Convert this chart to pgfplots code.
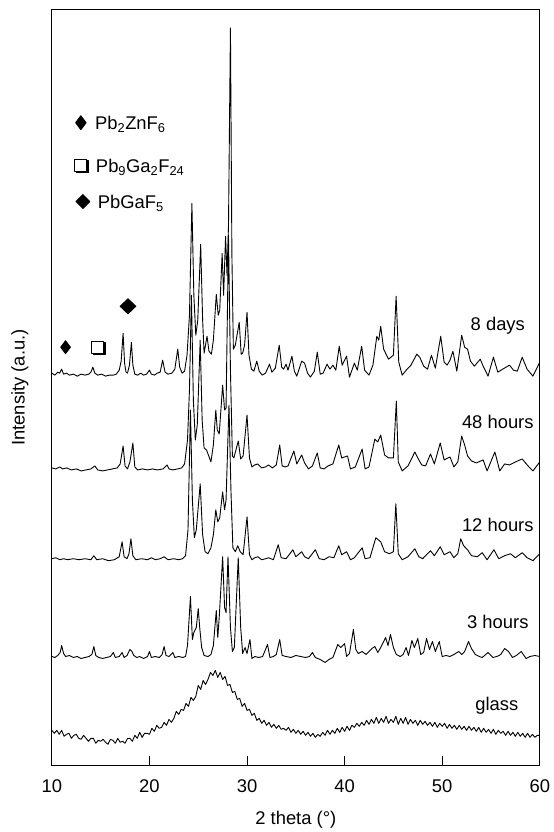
\documentclass[border=0pt]{standalone}
\usepackage{fontspec}
\setmainfont{Liberation Sans}
\usepackage{pgfplots}
\usepackage{pgfplotstable}
\pgfplotsset{compat=1.18}

\pgfplotstableread[row sep=\\]{x h\\
10 2\\ 10.3 0\\ 10.6 3\\ 10.8 2\\ 11.0 6\\ 11.2 1\\ 11.5 2\\ 11.8 0\\ 12.2 1\\ 12.6 -1\\ 13.0 1\\ 13.4 0\\ 13.8 1\\ 14.0 3\\ 14.2 8\\ 14.4 2\\ 14.7 0\\ 15.1 1\\ 15.5 -1\\ 15.9 0\\ 16.3 0\\ 16.6 1\\ 16.9 5\\ 17.1 14\\ 17.3 42\\ 17.45 12\\ 17.6 3\\ 17.75 2\\ 17.95 10\\ 18.15 33\\ 18.3 10\\ 18.5 1\\ 18.8 0\\ 19.1 2\\ 19.4 0\\ 19.7 1\\ 20.0 5\\ 20.2 1\\ 20.5 0\\ 20.8 2\\ 21.1 3\\ 21.35 15\\ 21.6 3\\ 21.9 1\\ 22.3 2\\ 22.6 6\\ 22.9 26\\ 23.1 8\\ 23.35 2\\ 23.6 4\\ 23.85 20\\ 24.1 60\\ 24.35 172\\ 24.55 80\\ 24.75 40\\ 24.95 55\\ 25.25 131\\ 25.45 55\\ 25.6 22\\ 25.9 39\\ 26.1 24\\ 26.35 21\\ 26.55 35\\ 26.85 81\\ 27.05 60\\ 27.2 65\\ 27.45 122\\ 27.6 80\\ 27.8 139\\ 27.95 100\\ 28.1 150\\ 28.3 348\\ 28.45 120\\ 28.6 26\\ 28.8 30\\ 29.2 53\\ 29.4 21\\ 29.55 22\\ 29.75 30\\ 30.0 63\\ 30.2 20\\ 30.45 6\\ 30.7 4\\ 31.0 14\\ 31.25 4\\ 31.55 0\\ 31.9 2\\ 32.3 11\\ 32.55 3\\ 32.9 7\\ 33.3 30\\ 33.55 8\\ 33.75 6\\ 34.0 11\\ 34.2 5\\ 34.6 19\\ 34.85 4\\ 35.1 -1\\ 35.6 14\\ 35.9 12\\ 36.2 2\\ 36.5 -2\\ 36.9 4\\ 37.2 23\\ 37.5 1\\ 37.8 2\\ 38.2 11\\ 38.5 6\\ 38.8 10\\ 39.1 5\\ 39.45 29\\ 39.75 10\\ 40.2 19\\ 40.5 -2\\ 41.0 12\\ 41.3 5\\ 41.75 29\\ 42.05 5\\ 42.5 0\\ 42.9 10\\ 43.3 39\\ 43.5 35\\ 43.7 49\\ 44.0 26\\ 44.5 16\\ 45.0 20\\ 45.28 79\\ 45.55 13\\ 45.9 0\\ 46.4 6\\ 46.8 10\\ 47.4 21\\ 47.7 18\\ 48.1 9\\ 48.5 6\\ 48.9 20\\ 49.3 7\\ 49.85 39\\ 50.2 13\\ 50.5 10\\ 50.8 15\\ 51.1 24\\ 51.5 4\\ 52.0 40\\ 52.3 28\\ 52.6 26\\ 52.9 14\\ 53.3 9\\ 53.9 16\\ 54.2 9\\ 54.7 -1\\ 55.25 18\\ 55.7 3\\ 56.2 6\\ 56.9 10\\ 57.3 5\\ 57.7 4\\ 58.2 18\\ 58.7 6\\ 59.3 -1\\ 60.0 13\\
}\eightdays

\pgfplotstableread[row sep=\\]{x h\\
10.0 2\\ 10.4 1\\ 10.8 3\\ 11.1 1\\ 11.5 2\\ 12.0 0\\ 12.5 1\\ 13.0 -1\\ 13.5 0\\ 14.0 1\\ 14.4 4\\ 14.7 0\\ 15.2 -1\\ 15.7 0\\ 16.2 1\\ 16.7 2\\ 17.0 6\\ 17.3 24\\ 17.5 4\\ 17.75 1\\ 18.0 8\\ 18.3 27\\ 18.5 3\\ 18.8 0\\ 19.3 1\\ 19.8 0\\ 20.3 1\\ 20.8 0\\ 21.4 1\\ 21.8 5\\ 22.0 1\\ 22.4 0\\ 22.9 1\\ 23.3 2\\ 23.6 6\\ 23.9 30\\ 24.1 80\\ 24.3 175\\ 24.5 70\\ 24.7 30\\ 24.9 45\\ 25.2 130\\ 25.4 50\\ 25.6 22\\ 25.85 20\\ 26.0 16\\ 26.3 8\\ 26.55 25\\ 26.8 60\\ 26.95 40\\ 27.15 36\\ 27.5 85\\ 27.7 60\\ 27.85 62\\ 28.1 235\\ 28.3 100\\ 28.5 14\\ 28.65 12\\ 29.1 29\\ 29.35 11\\ 29.6 14\\ 30.0 55\\ 30.25 12\\ 30.5 3\\ 30.8 5\\ 31.1 6\\ 31.5 2\\ 31.9 3\\ 32.2 5\\ 32.6 2\\ 33.0 5\\ 33.35 25\\ 33.6 4\\ 33.9 3\\ 34.2 4\\ 34.8 19\\ 35.1 6\\ 35.6 15\\ 35.9 7\\ 36.3 1\\ 36.7 4\\ 37.2 17\\ 37.5 2\\ 37.9 1\\ 38.3 4\\ 38.8 6\\ 39.4 25\\ 39.7 12\\ 40.3 14\\ 40.6 1\\ 41.1 3\\ 41.8 21\\ 42.1 1\\ 42.5 3\\ 43.1 31\\ 43.4 28\\ 43.7 35\\ 44.1 15\\ 44.5 12\\ 45.0 12\\ 45.3 69\\ 45.5 8\\ 45.9 -1\\ 46.5 4\\ 47.2 18\\ 47.5 12\\ 47.9 5\\ 48.3 4\\ 48.8 16\\ 49.2 6\\ 49.8 27\\ 50.2 10\\ 50.8 13\\ 51.2 3\\ 51.6 8\\ 52.0 34\\ 52.3 25\\ 52.6 14\\ 53.0 9\\ 53.5 7\\ 54.2 10\\ 54.6 -1\\ 55.4 18\\ 55.9 -1\\ 56.4 6\\ 56.9 5\\ 57.5 8\\ 58.2 11\\ 58.8 4\\ 59.3 -1\\ 60.0 8\\
}\fortyeight

\pgfplotstableread[row sep=\\]{x h\\
10.0 1\\ 10.4 2\\ 10.8 0\\ 11.2 1\\ 11.6 0\\ 12.2 1\\ 12.8 0\\ 13.4 1\\ 14.0 0\\ 14.3 4\\ 14.6 0\\ 15.2 1\\ 15.8 -1\\ 16.4 0\\ 16.9 3\\ 17.2 18\\ 17.4 3\\ 17.7 1\\ 17.9 6\\ 18.1 21\\ 18.3 4\\ 18.6 0\\ 19.2 1\\ 19.8 0\\ 20.2 2\\ 20.6 0\\ 21.1 1\\ 21.5 3\\ 21.9 0\\ 22.5 1\\ 23.0 0\\ 23.4 1\\ 23.7 4\\ 23.95 30\\ 24.2 150\\ 24.4 60\\ 24.6 22\\ 24.8 30\\ 25.2 76\\ 25.45 25\\ 25.7 8\\ 26.0 6\\ 26.3 12\\ 26.55 25\\ 26.8 50\\ 27.0 38\\ 27.2 42\\ 27.5 68\\ 27.7 50\\ 27.85 60\\ 28.15 155\\ 28.35 70\\ 28.55 12\\ 28.8 8\\ 29.05 14\\ 29.3 8\\ 29.6 5\\ 30.0 43\\ 30.25 5\\ 30.5 0\\ 30.8 2\\ 31.1 3\\ 31.5 0\\ 31.9 1\\ 32.2 2\\ 32.7 0\\ 33.2 15\\ 33.5 2\\ 34.0 1\\ 34.7 10\\ 35.0 3\\ 35.6 8\\ 35.9 3\\ 36.3 1\\ 37.0 10\\ 37.4 1\\ 37.9 0\\ 38.4 3\\ 38.9 2\\ 39.4 14\\ 39.7 5\\ 40.2 8\\ 40.6 0\\ 41.0 2\\ 41.8 12\\ 42.1 1\\ 42.6 2\\ 43.2 22\\ 43.45 20\\ 43.7 18\\ 44.1 8\\ 44.6 6\\ 45.0 8\\ 45.25 56\\ 45.5 6\\ 45.9 0\\ 46.5 3\\ 47.2 11\\ 47.6 3\\ 48.0 1\\ 48.8 9\\ 49.2 4\\ 49.8 13\\ 50.2 5\\ 50.8 8\\ 51.2 2\\ 51.6 6\\ 51.9 21\\ 52.2 14\\ 52.6 10\\ 53.0 4\\ 53.6 3\\ 54.1 7\\ 54.6 0\\ 55.3 10\\ 55.8 1\\ 56.4 4\\ 57.0 6\\ 57.5 2\\ 58.2 7\\ 58.7 2\\ 59.3 -1\\ 60.0 6\\
}\twelve

\pgfplotstableread[row sep=\\]{x h\\
10.0 1\\ 10.3 0\\ 10.6 2\\ 10.85 5\\ 11.0 12\\ 11.2 4\\ 11.4 1\\ 11.8 2\\ 12.2 0\\ 12.6 1\\ 13.0 -1\\ 13.4 0\\ 13.8 1\\ 14.1 3\\ 14.3 11\\ 14.5 2\\ 14.8 0\\ 15.2 -1\\ 15.6 0\\ 16.0 1\\ 16.3 5\\ 16.5 0\\ 16.9 1\\ 17.2 5\\ 17.4 0\\ 17.7 2\\ 18.0 8\\ 18.2 6\\ 18.4 2\\ 18.7 0\\ 19.0 1\\ 19.4 -1\\ 19.8 1\\ 20.0 6\\ 20.2 0\\ 20.6 1\\ 21.0 0\\ 21.3 3\\ 21.5 11\\ 21.7 2\\ 22.0 1\\ 22.4 5\\ 22.6 0\\ 23.0 1\\ 23.4 0\\ 23.7 1\\ 23.9 12\\ 24.2 61\\ 24.4 18\\ 24.55 25\\ 24.8 30\\ 25.0 49\\ 25.15 30\\ 25.35 10\\ 25.6 2\\ 26.0 1\\ 26.3 3\\ 26.55 12\\ 26.85 47\\ 27.0 20\\ 27.15 40\\ 27.5 101\\ 27.7 50\\ 27.85 45\\ 28.05 101\\ 28.3 30\\ 28.5 6\\ 28.7 10\\ 29.1 100\\ 29.35 30\\ 29.55 4\\ 29.8 10\\ 30.0 4\\ 30.3 18\\ 30.5 -1\\ 30.8 1\\ 31.2 0\\ 31.6 1\\ 32.1 13\\ 32.35 0\\ 32.7 1\\ 33.0 3\\ 33.35 18\\ 33.6 2\\ 34.0 1\\ 34.5 0\\ 35.0 2\\ 35.5 1\\ 36.0 0\\ 36.4 1\\ 36.7 5\\ 37.0 0\\ 37.5 -2\\ 38.0 -5\\ 38.4 -2\\ 38.8 0\\ 39.3 13\\ 39.6 10\\ 40.0 14\\ 40.2 1\\ 40.5 4\\ 40.9 28\\ 41.15 8\\ 41.4 4\\ 41.8 6\\ 42.2 3\\ 42.8 9\\ 43.1 11\\ 43.4 5\\ 43.7 10\\ 44.2 20\\ 44.45 12\\ 44.7 23\\ 45.0 10\\ 45.3 3\\ 45.7 1\\ 46.0 3\\ 46.3 10\\ 46.55 2\\ 46.9 17\\ 47.15 10\\ 47.5 19\\ 47.8 3\\ 48.1 5\\ 48.4 19\\ 48.7 8\\ 49.0 16\\ 49.3 6\\ 49.7 16\\ 50.0 1\\ 50.4 2\\ 50.8 1\\ 51.2 3\\ 51.7 6\\ 52.0 3\\ 52.3 6\\ 52.7 16\\ 53.0 9\\ 53.4 3\\ 53.8 1\\ 54.1 0\\ 54.7 5\\ 55.2 0\\ 55.6 1\\ 56.0 3\\ 56.4 9\\ 56.8 6\\ 57.2 0\\ 57.6 2\\ 58.1 6\\ 58.6 -1\\ 59.0 1\\ 59.5 2\\ 60.0 1\\
}\threeh

\pgfplotstableread[row sep=\\]{x y\\
10.00 35\\ 10.25 32\\ 10.50 35\\ 10.75 31\\ 11.00 35\\ 11.25 29\\ 11.50 31\\ 11.75 32\\ 12.00 27\\ 12.25 30\\ 12.50 31\\ 12.75 27\\ 13.00 26\\ 13.25 30\\ 13.50 27\\ 13.75 24\\ 14.00 27\\ 14.25 27\\ 14.50 22\\ 14.75 25\\ 15.00 24\\ 15.25 26\\ 15.50 23\\ 15.75 21\\ 16.00 26\\ 16.25 25\\ 16.50 22\\ 16.75 27\\ 17.00 23\\ 17.25 24\\ 17.50 22\\ 17.75 27\\ 18.00 27\\ 18.25 24\\ 18.50 30\\ 18.75 27\\ 19.00 33\\ 19.25 28\\ 19.50 32\\ 19.75 32\\ 20.00 31\\ 20.25 37\\ 20.50 34\\ 20.75 40\\ 21.00 37\\ 21.25 38\\ 21.50 43\\ 21.75 40\\ 22.00 46\\ 22.25 43\\ 22.50 47\\ 22.75 54\\ 23.00 51\\ 23.25 56\\ 23.50 55\\ 23.75 62\\ 24.00 59\\ 24.25 68\\ 24.50 65\\ 24.75 69\\ 25.00 80\\ 25.25 76\\ 25.50 85\\ 25.75 81\\ 26.00 86\\ 26.25 93\\ 26.50 90\\ 26.75 95\\ 27.00 88\\ 27.25 93\\ 27.50 86\\ 27.75 89\\ 28.00 80\\ 28.25 81\\ 28.50 73\\ 28.75 74\\ 29.00 66\\ 29.25 67\\ 29.50 59\\ 29.75 62\\ 30.00 55\\ 30.25 56\\ 30.50 50\\ 30.75 52\\ 31.00 45\\ 31.25 47\\ 31.50 42\\ 31.75 45\\ 32.00 40\\ 32.25 43\\ 32.50 38\\ 32.75 41\\ 33.00 37\\ 33.25 40\\ 33.50 36\\ 33.75 37\\ 34.00 35\\ 34.25 38\\ 34.50 33\\ 34.75 36\\ 35.00 32\\ 35.25 35\\ 35.50 31\\ 35.75 34\\ 36.00 30\\ 36.25 33\\ 36.50 29\\ 36.75 32\\ 37.00 28\\ 37.25 31\\ 37.50 29\\ 37.75 33\\ 38.00 30\\ 38.25 35\\ 38.50 31\\ 38.75 35\\ 39.00 32\\ 39.25 37\\ 39.50 33\\ 39.75 38\\ 40.00 34\\ 40.25 39\\ 40.50 35\\ 40.75 40\\ 41.00 38\\ 41.25 42\\ 41.50 39\\ 41.75 43\\ 42.00 40\\ 42.25 45\\ 42.50 41\\ 42.75 46\\ 43.00 42\\ 43.25 48\\ 43.50 42\\ 43.75 47\\ 44.00 43\\ 44.25 49\\ 44.50 42\\ 44.75 46\\ 45.00 43\\ 45.25 49\\ 45.50 41\\ 45.75 47\\ 46.00 42\\ 46.25 48\\ 46.50 41\\ 46.75 46\\ 47.00 42\\ 47.25 45\\ 47.50 40\\ 47.75 45\\ 48.00 41\\ 48.25 44\\ 48.50 40\\ 48.75 43\\ 49.00 39\\ 49.25 43\\ 49.50 38\\ 49.75 42\\ 50.00 39\\ 50.25 42\\ 50.50 37\\ 50.75 41\\ 51.00 37\\ 51.25 40\\ 51.50 36\\ 51.75 40\\ 52.00 36\\ 52.25 39\\ 52.50 35\\ 52.75 39\\ 53.00 35\\ 53.25 38\\ 53.50 34\\ 53.75 38\\ 54.00 33\\ 54.25 37\\ 54.50 33\\ 54.75 36\\ 55.00 32\\ 55.25 36\\ 55.50 31\\ 55.75 35\\ 56.00 32\\ 56.25 34\\ 56.50 30\\ 56.75 34\\ 57.00 30\\ 57.25 33\\ 57.50 29\\ 57.75 33\\ 58.00 29\\ 58.25 32\\ 58.50 28\\ 58.75 32\\ 59.00 28\\ 59.25 31\\ 59.50 28\\ 59.75 30\\ 60.00 30\\
}\glass

\begin{document}
\begin{tikzpicture}
\begin{axis}[
  at={(0,0)}, anchor=south west,
  scale only axis, width=489bp, height=757bp,
  xmin=10, xmax=60, ymin=0, ymax=757,
  xtick={10,20,30,40,50,60}, ytick=\empty,
  xtick pos=bottom, tick align=inside, major tick length=9bp,
  axis line style={line width=1bp},
  tick style={line width=0.8bp, black},
  /pgf/number format/assume math mode=true,
  xticklabel style={font=\fontsize{18.5}{22}\selectfont, anchor=center, yshift=-21bp},
  xlabel={2 theta (°)},
  ylabel={Intensity (a.u.)},
  xlabel style={font=\fontsize{18.5}{22}\selectfont, at={(axis description cs:0.5,0)}, anchor=center, yshift=-55bp},
  ylabel style={font=\fontsize{18.5}{22}\selectfont, at={(axis description cs:-0.0654,0.5)}, anchor=center},
  every axis plot/.append style={line width=0.9bp, black, line join=round},
  clip=true,
]
\addplot[no marks] table[x=x, y=y] {\glass};
\addplot[no marks] table[x=x, y expr=\thisrow{h}+108] {\threeh};
\addplot[no marks] table[x=x, y expr=\thisrow{h}+206] {\twelve};
\addplot[no marks] table[x=x, y expr=\thisrow{h}+296] {\fortyeight};
\addplot[no marks] table[x=x, y expr=\thisrow{h}+391] {\eightdays};

% phase markers on the 8 days pattern
\addplot[only marks, mark=diamond*, mark size=6.5bp, mark options={fill=black, draw=black}] coordinates {(11.4,419)};
\addplot[only marks, mark=square*, mark size=6bp, mark options={fill=black, draw=black, xshift=1.3bp, yshift=-1.3bp}] coordinates {(14.7,419)};
\addplot[only marks, mark=square*, mark size=6bp, mark options={fill=white, draw=black, line width=0.9bp}] coordinates {(14.7,419)};
\addplot[only marks, mark=diamond*, mark size=7.5bp, mark options={fill=black, draw=black, xscale=1.4}] coordinates {(17.8,460)};

% legend symbols
\addplot[only marks, mark=diamond*, mark size=7bp, mark options={fill=black, draw=black}] coordinates {(12.97,644)};
\addplot[only marks, mark=square*, mark size=6bp, mark options={fill=black, draw=black, xshift=1.3bp, yshift=-1.3bp}] coordinates {(12.97,601)};
\addplot[only marks, mark=square*, mark size=6bp, mark options={fill=white, draw=black, line width=0.9bp}] coordinates {(12.97,601)};
\addplot[only marks, mark=diamond*, mark size=7bp, mark options={fill=black, draw=black, xscale=1.33}] coordinates {(13.18,565)};

\node[anchor=west, font=\fontsize{18.5}{22}\selectfont, inner sep=0pt] at (axis cs:14.41,642) {Pb\textsubscript{2}ZnF\textsubscript{6}};
\node[anchor=west, font=\fontsize{18.5}{22}\selectfont, inner sep=0pt] at (axis cs:14.5,599) {Pb\textsubscript{9}Ga\textsubscript{2}F\textsubscript{24}};
\node[anchor=west, font=\fontsize{18.5}{22}\selectfont, inner sep=0pt] at (axis cs:14.7,563) {PbGaF\textsubscript{5}};

\node[font=\fontsize{18.5}{22}\selectfont] at (axis cs:55.7,441) {8 days};
\node[font=\fontsize{18.5}{22}\selectfont] at (axis cs:55.7,344) {48 hours};
\node[font=\fontsize{18.5}{22}\selectfont] at (axis cs:55.7,241) {12 hours};
\node[font=\fontsize{18.5}{22}\selectfont] at (axis cs:55.7,144) {3 hours};
\node[font=\fontsize{18.5}{22}\selectfont] at (axis cs:55.6,60) {glass};
\end{axis}
\path[use as bounding box] (-52bp,-65bp) rectangle (498bp,767bp);
\end{tikzpicture}
\end{document}
